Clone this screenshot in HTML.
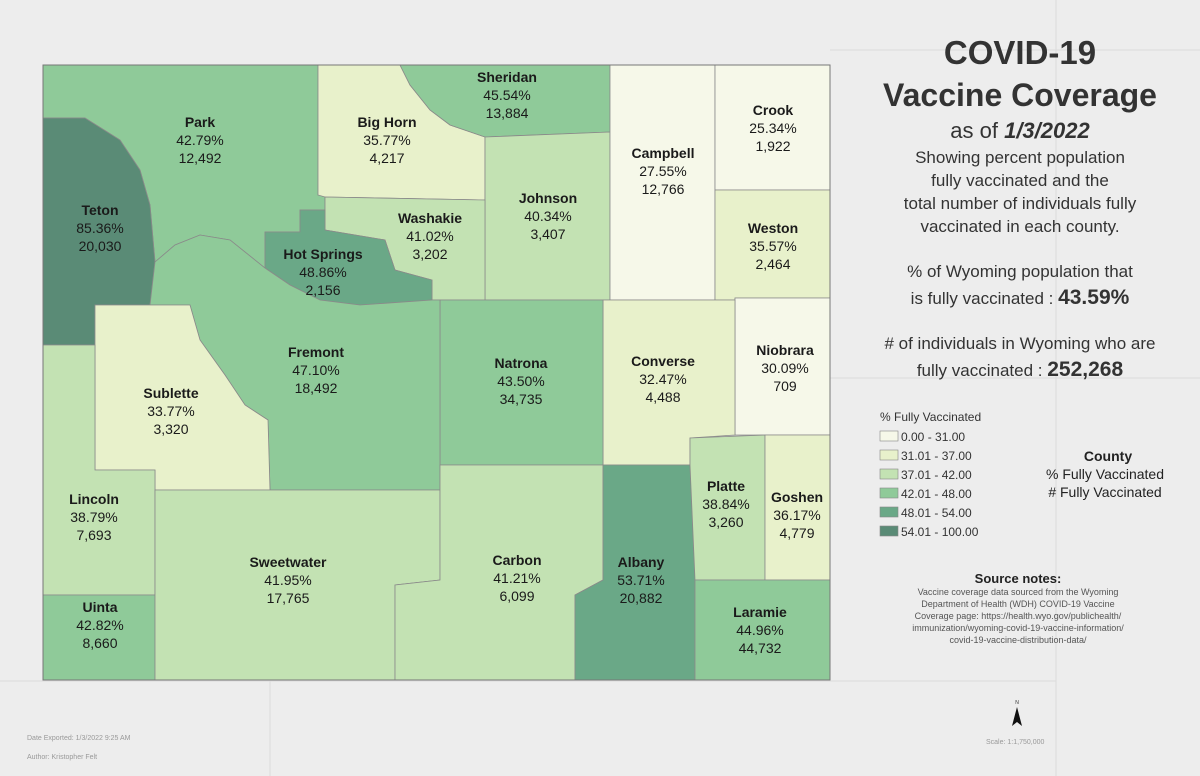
<!DOCTYPE html>
<html><head><meta charset="utf-8"><style>
body{margin:0;background:#ececec;}
svg{display:block;font-family:"Liberation Sans","DejaVu Sans",sans-serif;}
</style></head><body>
<svg id="map" width="1200" height="776" viewBox="0 0 1200 776">
<rect x="0" y="0" width="1200" height="776" fill="#ededed"/>
<g stroke="#dcdcdc" fill="none" stroke-width="1">
<line x1="1056" y1="0" x2="1056" y2="776"/><line x1="270" y1="680" x2="270" y2="776"/>
<line x1="830" y1="378" x2="1200" y2="378"/><line x1="830" y1="50" x2="1200" y2="50"/>
<line x1="0" y1="681" x2="1056" y2="681"/>
</g>
<g id="counties"></g>
<g id="labels"></g>
<rect x="43" y="65" width="787" height="615" fill="none" stroke="#777" stroke-width="1"/>
<g text-anchor="middle" fill="#333">
<text x="1020" y="64" font-size="33" font-weight="bold">COVID-19</text>
<text x="1020" y="106" font-size="32" font-weight="bold">Vaccine Coverage</text>
<text x="1020" y="138" font-size="22">as of <tspan font-weight="bold" font-style="italic">1/3/2022</tspan></text>
<text x="1020" y="163" font-size="17">Showing percent population</text>
<text x="1020" y="186" font-size="17">fully vaccinated and the</text>
<text x="1020" y="209" font-size="17">total number of individuals fully</text>
<text x="1020" y="232" font-size="17">vaccinated in each county.</text>
<text x="1020" y="277" font-size="17">% of Wyoming population that</text>
<text x="1020" y="304" font-size="17">is fully vaccinated : <tspan font-size="21" font-weight="bold">43.59%</tspan></text>
<text x="1020" y="349" font-size="17"># of individuals in Wyoming who are</text>
<text x="1020" y="376" font-size="17">fully vaccinated : <tspan font-size="21" font-weight="bold">252,268</tspan></text>
</g>
<g id="legend">
<text x="880" y="421" font-size="12" fill="#333">% Fully Vaccinated</text>
</g>
<g text-anchor="middle" fill="#222">
<text x="1108" y="461" font-size="14" font-weight="bold">County</text>
<text x="1105" y="479" font-size="14">% Fully Vaccinated</text>
<text x="1105" y="497" font-size="14"># Fully Vaccinated</text>
</g>
<g text-anchor="middle" fill="#555">
<text x="1018" y="583" font-size="13" font-weight="bold" fill="#222">Source notes:</text>
<text x="1018" y="595" font-size="9">Vaccine coverage data sourced from the Wyoming</text>
<text x="1018" y="607" font-size="9">Department of Health (WDH) COVID-19 Vaccine</text>
<text x="1018" y="619" font-size="9">Coverage page: https://health.wyo.gov/publichealth/</text>
<text x="1018" y="631" font-size="9">immunization/wyoming-covid-19-vaccine-information/</text>
<text x="1018" y="643" font-size="9">covid-19-vaccine-distribution-data/</text>
</g>
<g fill="#999" font-size="7">
<text x="27" y="740">Date Exported: 1/3/2022 9:25 AM</text>
<text x="27" y="759">Author: Kristopher Felt</text>
<text x="986" y="744">Scale: 1:1,750,000</text>
</g>
<g><text x="1017" y="704" font-size="5" fill="#333" text-anchor="middle">N</text><polygon points="1017,707 1022,726 1017,722 1012,726" fill="#111"/></g>
</svg>
<script>
const names=["Park","Teton","Big Horn","Sheridan","Johnson","Washakie","Hot Springs","Campbell","Crook","Weston","Niobrara","Converse","Natrona","Fremont","Sublette","Lincoln","Uinta","Sweetwater","Carbon","Albany","Platte","Goshen","Laramie"];
const pcts=[42.79,85.36,35.77,45.54,40.34,41.02,48.86,27.55,25.34,35.57,30.09,32.47,43.50,47.10,33.77,38.79,42.82,41.95,41.21,53.71,38.84,36.17,44.96];
const counts=["12,492","20,030","4,217","13,884","3,407","3,202","2,156","12,766","1,922","2,464","709","4,488","34,735","18,492","3,320","7,693","8,660","17,765","6,099","20,882","3,260","4,779","44,732"];
const breakMax=[31,37,42,48,54,100];
const breakLabels=["0.00 - 31.00","31.01 - 37.00","37.01 - 42.00","42.01 - 48.00","48.01 - 54.00","54.01 - 100.00"];
const colors=["#f6f8e9","#e8f1cb","#c3e2b3","#8fca99","#6aa887","#5a8b76"];
const shapes=[
"43,65 318,65 318,195 325,195 325,210 300,210 300,232 265,232 265,268 230,240 200,235 175,245 155,262 150,205 140,170 120,140 85,118 43,118",
"43,118 85,118 120,140 140,170 150,205 155,262 150,305 95,305 95,345 43,345",
"318,65 400,65 410,85 430,110 450,125 485,137 485,200 325,197 318,195",
"400,65 610,65 610,132 485,137 450,125 430,110 410,85",
"485,137 610,132 610,300 485,300",
"325,197 485,200 485,300 432,300 432,280 395,270 385,240 325,230",
"265,232 300,232 300,210 325,210 325,230 385,240 395,270 432,280 432,300 360,305 320,300 290,285 265,268",
"610,65 715,65 715,300 610,300",
"715,65 830,65 830,190 715,190",
"715,190 830,190 830,298 735,298 735,300 715,300",
"735,298 830,298 830,435 735,435",
"603,300 735,300 735,435 690,438 690,465 603,465",
"440,300 603,300 603,465 440,465",
"155,262 175,245 200,235 230,240 265,268 290,285 320,300 360,305 432,300 440,300 440,490 270,490 268,420 245,405 225,375 200,340 190,305 150,305",
"95,305 190,305 200,340 225,375 245,405 268,420 270,490 155,490 155,470 95,470",
"43,345 95,345 95,470 155,470 155,595 43,595",
"43,595 155,595 155,680 43,680",
"155,490 440,490 440,580 395,585 395,680 155,680",
"440,465 603,465 603,580 575,595 575,680 395,680 395,585 440,580",
"603,465 690,465 695,580 695,680 575,680 575,595 603,580",
"690,438 765,435 765,580 695,580 690,465",
"765,435 830,435 830,580 765,580",
"695,580 830,580 830,680 695,680"];
const labelAnchor=[[200,127],[100,215],[387,127],[507,82],[548,203],[430,223],[323,259],[663,158],[773,115],[773,233],[785,355],[663,366],[521,368],[316,357],[171,398],[94,504],[100,612],[288,567],[517,565],[641,567],[726,491],[797,502],[760,617]];
function colorFor(p){for(let i=0;i<breakMax.length;i++){if(p<=breakMax[i])return colors[i];}return colors[colors.length-1];}
const NS="http://www.w3.org/2000/svg";
const cg=document.getElementById("counties"),lg=document.getElementById("labels");
names.forEach((n,i)=>{
 const p=document.createElementNS(NS,"polygon");
 p.setAttribute("points",shapes[i]);p.setAttribute("fill",colorFor(pcts[i]));
 p.setAttribute("stroke","#8a8a8a");p.setAttribute("stroke-width","0.8");
 
 
 cg.appendChild(p);
 const [x,y]=labelAnchor[i];
 const t=document.createElementNS(NS,"text");
 t.setAttribute("x",x);t.setAttribute("y",y);t.setAttribute("text-anchor","middle");t.setAttribute("fill","#1a1a1a");
 
 
 t.innerHTML='<tspan x="'+x+'" font-size="14" font-weight="bold">'+n+'</tspan><tspan x="'+x+'" dy="18" font-size="14">'+pcts[i].toFixed(2)+'%</tspan><tspan x="'+x+'" dy="18" font-size="14">'+counts[i]+'</tspan>';
 lg.appendChild(t);
});
const leg=document.getElementById("legend");
breakLabels.forEach((b,i)=>{
 const y=431+i*19;
 const r=document.createElementNS(NS,"rect");
 r.setAttribute("x",880);r.setAttribute("y",y);r.setAttribute("width",18);r.setAttribute("height",10);
 r.setAttribute("fill",colors[i]);r.setAttribute("stroke","#888");r.setAttribute("stroke-width","0.6");
 
 
 leg.appendChild(r);
 const t=document.createElementNS(NS,"text");
 t.setAttribute("x",901);t.setAttribute("y",y+10);t.setAttribute("font-size","12");t.setAttribute("fill","#333");
 t.textContent=b;
 
 
 leg.appendChild(t);
});
</script>
</body></html>
